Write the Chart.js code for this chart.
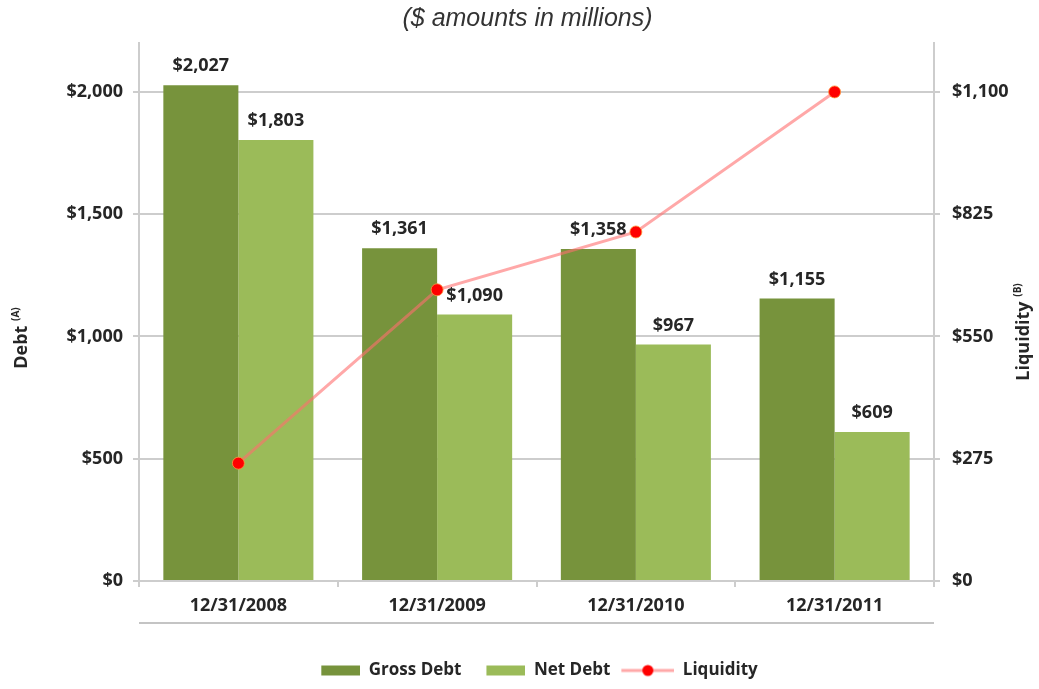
<!DOCTYPE html>
<html>
<head>
<meta charset="utf-8">
<script src="https://cdn.jsdelivr.net/npm/chart.js@4"></script>
<style>
  html, body { margin: 0; padding: 0; background: #fff; }
  #wrap { width: 1039px; height: 689px; position: relative; }
</style>
</head>
<body>
<div id="wrap"><canvas id="chart"></canvas></div>
<script>
const CATEGORIES = ['12/31/2008', '12/31/2009', '12/31/2010', '12/31/2011'];
const GROSS_DEBT = [2027, 1361, 1358, 1155];
const NET_DEBT = [1803, 1090, 967, 609];
const LIQUIDITY = [265, 655, 785, 1100];
const DEBT_TICKS = [0, 500, 1000, 1500, 2000];
const LIQ_TICKS = [0, 275, 550, 825, 1100];

const TEXT = '#262626';
const GRID = '#cdcdcd';
const FONT = "'Open Sans', sans-serif";
const LINE = 'rgba(255,110,110,0.6)';

const money = v => '$' + Number(v).toLocaleString('en-US');

// legend pictures, all the same width, mark drawn on the right side
const PIC_W = 63;
function swatch(color) {
  const c = document.createElement('canvas');
  c.width = PIC_W; c.height = 12;
  const g = c.getContext('2d');
  g.fillStyle = color;
  g.fillRect(PIC_W - 39, 1, 39, 10);
  return c;
}
function lineMark() {
  const c = document.createElement('canvas');
  c.width = PIC_W; c.height = 14;
  const g = c.getContext('2d');
  g.strokeStyle = LINE;
  g.lineWidth = 3;
  g.beginPath(); g.moveTo(PIC_W - 53, 7); g.lineTo(PIC_W, 7); g.stroke();
  g.fillStyle = '#ff0000';
  g.beginPath(); g.arc(PIC_W - 26.5, 7, 5.5, 0, Math.PI * 2); g.fill();
  return c;
}
const legendPics = [swatch('#77933c'), swatch('#9bbb59'), lineMark()];

const extras = {
  id: 'extras',
  beforeDatasetDraw(chart, args) {
    if (args.index !== 2) return;
    const ctx = chart.ctx;
    ctx.save();
    ctx.font = `700 18px ${FONT}`;
    ctx.fillStyle = TEXT;
    ctx.textAlign = 'center';
    ctx.textBaseline = 'middle';
    [0, 1].forEach(di => {
      const ds = chart.data.datasets[di];
      chart.getDatasetMeta(di).data.forEach((bar, i) => {
        ctx.fillText(money(ds.data[i]), bar.x, bar.y - 19);
      });
    });
    ctx.restore();
  },
  afterDraw(chart) {
    const ctx = chart.ctx;
    const a = chart.chartArea;
    ctx.save();
    // line under the category labels
    ctx.strokeStyle = '#c4c4c4';
    ctx.lineWidth = 2;
    ctx.beginPath();
    ctx.moveTo(a.left, a.bottom + 42);
    ctx.lineTo(a.right, a.bottom + 42);
    ctx.stroke();
    // axis titles with superscripts
    const title = (x, y, main, sup) => {
      ctx.save();
      ctx.translate(x, y);
      ctx.rotate(-Math.PI / 2);
      ctx.fillStyle = TEXT;
      ctx.textBaseline = 'middle';
      ctx.font = `700 18px ${FONT}`;
      const w1 = ctx.measureText(main + ' ').width;
      ctx.font = `700 10px ${FONT}`;
      const w2 = ctx.measureText(sup).width;
      const start = -(w1 + w2) / 2;
      ctx.font = `700 18px ${FONT}`;
      ctx.textAlign = 'left';
      ctx.fillText(main, start, 0);
      ctx.font = `700 10px ${FONT}`;
      ctx.fillText(sup, start + w1, -6);
      ctx.restore();
    };
    title(22, 338, 'Debt', '(A)');
    title(1024, 332, 'Liquidity', '(B)');
    ctx.restore();
  }
};

new Chart(document.getElementById('chart'), {
  type: 'bar',
  data: {
    labels: CATEGORIES,
    datasets: [
      { label: 'Gross Debt', data: GROSS_DEBT, backgroundColor: '#77933c', yAxisID: 'y', order: 1,
        categoryPercentage: 0.755, barPercentage: 1 },
      { label: 'Net Debt', data: NET_DEBT, backgroundColor: '#9bbb59', yAxisID: 'y', order: 1,
        categoryPercentage: 0.755, barPercentage: 1 },
      { type: 'line', label: 'Liquidity', data: LIQUIDITY, yAxisID: 'y2', order: 0,
        borderColor: LINE, borderWidth: 3, tension: 0,
        pointStyle: 'circle', pointRadius: 6, pointBackgroundColor: '#ff0000',
        pointBorderColor: 'rgba(255,150,60,0.8)', pointBorderWidth: 1 }
    ]
  },
  options: {
    responsive: true,
    maintainAspectRatio: false,
    animation: false,
    layout: { padding: { left: 16 } },
    elements: { point: { hoverRadius: 6 } },
    plugins: {
      title: {
        display: true,
        text: '($ amounts in millions)',
        color: '#333',
        font: { family: "'Liberation Sans', Arial, sans-serif", size: 25, style: 'italic', weight: 'normal', lineHeight: '29px' },
        padding: { top: 5, bottom: 9 }
      },
      legend: {
        position: 'bottom',
        labels: {
          usePointStyle: true,
          pointStyleWidth: PIC_W,
          padding: 1,
          color: TEXT,
          font: { family: FONT, size: 17, weight: '700' },
          generateLabels(chart) {
            return chart.data.datasets.map((ds, i) => ({
              text: ds.label,
              pointStyle: legendPics[i],
              fillStyle: 'transparent',
              strokeStyle: 'transparent',
              lineWidth: 0,
              datasetIndex: i,
              fontColor: TEXT
            }));
          }
        }
      },
      tooltip: { enabled: false }
    },
    scales: {
      x: {
        grid: { display: true, drawOnChartArea: false, offset: true, tickLength: 6, color: GRID, lineWidth: 2 },
        border: { display: true, color: GRID, width: 2 },
        ticks: { color: TEXT, padding: 8, font: { family: FONT, size: 18, weight: '700' } },
        afterFit(s) { s.height = 80; }
      },
      y: {
        position: 'left',
        min: 0, max: 2200,
        ticks: { padding: 10, color: TEXT, font: { family: FONT, size: 18, weight: '700' }, callback: v => money(v) },
        afterBuildTicks(s) { s.ticks = DEBT_TICKS.map(v => ({ value: v })); },
        grid: { color: GRID, lineWidth: 2, tickLength: 6 },
        border: { display: true, color: GRID, width: 2 },
        afterFit(s) { s.width = 123; }
      },
      y2: {
        position: 'right',
        min: 0, max: 1210,
        ticks: { padding: 12, color: TEXT, font: { family: FONT, size: 18, weight: '700' }, callback: v => money(v) },
        afterBuildTicks(s) { s.ticks = LIQ_TICKS.map(v => ({ value: v })); },
        grid: { drawOnChartArea: false, color: GRID, lineWidth: 2, tickLength: 6 },
        border: { display: true, color: GRID, width: 2 },
        afterFit(s) { s.width = 105; }
      }
    }
  },
  plugins: [extras]
});
</script>
</body>
</html>
